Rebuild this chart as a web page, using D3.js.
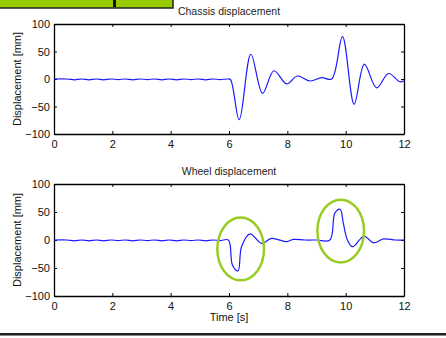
<!DOCTYPE html>
<html>
<head>
<meta charset="utf-8">
<script src="https://cdn.jsdelivr.net/npm/d3@7"></script>
<style>
  body { margin: 0; background: #fff; }
  svg { display: block; font-family: "Liberation Sans", Arial, sans-serif; }
</style>
</head>
<body>
<div id="chart"></div>
<script>
// time ticks and value ticks
var xTicks = [0, 2, 4, 6, 8, 10, 12];
var yTicks = [-100, -50, 0, 50, 100];

// chassis displacement [t, mm]
var chassisT = [0, 0.45, 0.7, 0.95, 1.2, 1.45, 1.7, 1.95, 2.2, 2.45, 2.7, 2.95, 3.2, 3.45, 3.7, 3.95, 4.2, 4.45, 4.7, 4.95, 5.2, 5.45, 5.7, 5.95, 6.05,
  6.35, 6.75, 7.15, 7.54, 7.98, 8.34, 8.78, 9.18, 9.52, 9.89, 10.29, 10.64, 11.06, 11.47, 11.86, 12];
var chassisV = [0, 0, -1.5, 0, -1.5, 0, -1.5, 0, -1, 0, -1.5, 0, -1, 0, -1.5, 0, -1.5, 0, -1, 0, -1.5, 0, -1, 0, -1,
  -74, 45, -26, 15, -9, 5.5, -3.6, 2.4, 0, 77, -46, 27, -16, 10, -5, -3];

// wheel displacement [t, mm]
var wheelT = [0, 0.45, 0.7, 0.95, 1.2, 1.45, 1.7, 1.95, 2.2, 2.45, 2.7, 2.95, 3.2, 3.45, 3.7, 3.95, 4.2, 4.45, 4.7, 4.95, 5.2, 5.45, 5.7, 5.98,
  6.12, 6.31, 6.43, 6.72, 7.12, 7.46, 7.98, 8.2, 8.6, 9.0, 9.46, 9.63, 9.81, 9.92, 10.06, 10.24, 10.63, 10.95, 11.3, 11.7, 12];
var wheelV = [0, 0, -1.5, 0, -1.5, 0, -1.5, 0, -1, 0, -1.5, 0, -1, 0, -1.5, 0, -1.5, 0, -1, 0, -1.5, 0, -1, 0,
  -45, -55, -12, 11, -6, 3, -3, 1, 0, 0, 0, 48, 55, 30, 0, -12, 7, -5, 2, 0, 0];

// highlighted events [t, mm, half-width s, half-height mm]
var markT = [6.4, 9.83];
var markV = [-16, 16];
var markRx = [0.8, 0.8];
var markRy = [56, 56];

var W = 446, H = 338;
var svg = d3.select("#chart").append("svg").attr("width", W).attr("height", H);

var x = d3.scaleLinear().domain([0, 12]).range([54, 404]);

function panel(top, bottom, title, ts, vs, withX) {
  var y = d3.scaleLinear().domain([-100, 100]).range([bottom, top]);
  var g = svg.append("g");

  g.append("rect").attr("x", x(0)).attr("y", top)
    .attr("width", x(12) - x(0)).attr("height", bottom - top).attr("fill", "#fff");

  // inside ticks all round
  g.append("g").attr("transform", "translate(0," + bottom + ")")
    .call(d3.axisBottom(x).tickValues(xTicks).tickSizeInner(-3).tickSizeOuter(0).tickPadding(6));
  g.append("g").attr("transform", "translate(0," + top + ")")
    .call(d3.axisTop(x).tickValues(xTicks).tickSizeInner(-3).tickSizeOuter(0).tickFormat(""));
  g.append("g").attr("transform", "translate(" + x(0) + ",0)")
    .call(d3.axisLeft(y).tickValues(yTicks).tickSizeInner(-3).tickSizeOuter(0).tickPadding(4));
  g.append("g").attr("transform", "translate(" + x(12) + ",0)")
    .call(d3.axisRight(y).tickValues(yTicks).tickSizeInner(-3).tickSizeOuter(0).tickFormat(""));

  g.selectAll(".domain").attr("stroke", "#000").attr("stroke-width", 1.3);
  g.selectAll(".tick line").attr("stroke", "#000");
  g.selectAll(".tick text").attr("font-size", 11).attr("fill", "#111")
    .attr("font-family", "Liberation Sans, Arial, sans-serif");

  var line = d3.line()
    .x(function (d, i) { return x(ts[i]); })
    .y(function (d) { return y(d); })
    .curve(d3.curveCatmullRom.alpha(0.5));
  g.append("path").datum(vs)
    .attr("d", line)
    .attr("fill", "none")
    .attr("stroke", "#1a1aff")
    .attr("stroke-width", 1.2);

  g.append("text").attr("x", x(6)).attr("y", top - 9)
    .attr("text-anchor", "middle").attr("font-size", 10.5).attr("fill", "#222").text(title);

  g.append("text")
    .attr("transform", "translate(21," + ((top + bottom) / 2) + ") rotate(-90)")
    .attr("text-anchor", "middle").attr("font-size", 11).attr("fill", "#111").text("Displacement [mm]");

  if (withX) {
    g.append("text").attr("x", x(6)).attr("y", bottom + 25)
      .attr("text-anchor", "middle").attr("font-size", 11).attr("fill", "#111").text("Time [s]");
  }
  return y;
}

panel(24, 134, "Chassis displacement", chassisT, chassisV, false);
var y2 = panel(184, 296, "Wheel displacement", wheelT, wheelV, true);

// green ellipses on the wheel plot
svg.selectAll(".mark").data(markT).enter().append("ellipse")
  .attr("cx", function (d) { return x(d); })
  .attr("cy", function (d, i) { return y2(markV[i]); })
  .attr("rx", function (d, i) { return x(markRx[i]) - x(0); })
  .attr("ry", function (d, i) { return y2(0) - y2(markRy[i]); })
  .attr("fill", "none")
  .attr("stroke", "#99cc22")
  .attr("stroke-width", 2.5);

// green banner, cut off at the top edge (only a glyph's descender shows)
svg.append("rect").attr("x", -2).attr("y", -10).attr("width", 175).attr("height", 18)
  .attr("fill", "#99cc00").attr("stroke", "#222").attr("stroke-width", 1.5);
svg.append("path").attr("d", "M113,0 L113,7 L116,7 L116,0 Z").attr("fill", "#111");

// bottom rule
svg.append("rect").attr("x", 0).attr("y", 333).attr("width", W).attr("height", 2).attr("fill", "#222");
svg.append("rect").attr("x", 0).attr("y", 335).attr("width", W).attr("height", 1).attr("fill", "#888");
</script>
</body>
</html>
